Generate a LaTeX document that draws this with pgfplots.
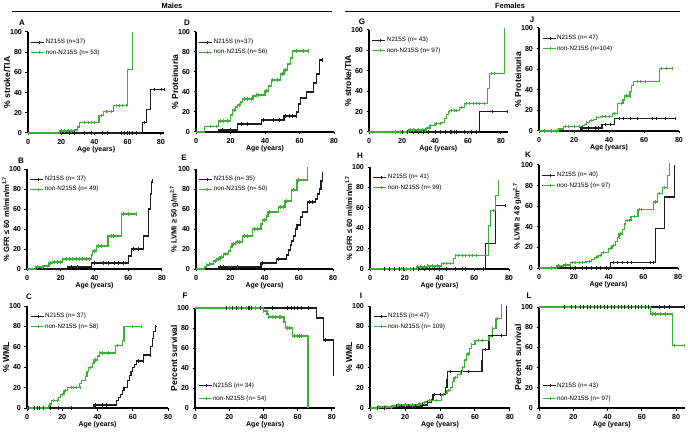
\documentclass[border=0pt]{standalone}
\usepackage{pgfplots}
\pgfplotsset{compat=1.18}
\usepackage{fontspec}
\setmainfont{Liberation Sans}
\definecolor{kmblack}{RGB}{30,30,30}
\definecolor{kmgreen}{RGB}{62,175,55}
\tikzset{
  blk/.style={color=kmblack},
  grn/.style={color=kmgreen},
}
\pgfplotsset{
  km/.style={
    scale only axis, anchor=south west,
    xmin=0, ymin=0, ymax=100,
    axis lines*=left, axis line style={line width=1.1pt, -},
    tick align=outside, major tick length=2.5bp,
    tick style={line width=1pt, black},
    xtick={0,20,40,60,80}, ytick={0,20,...,100},
    tick label style={font=\bfseries\fontsize{7.2}{8}\selectfont},
    /pgf/number format/assume math mode=true,
    xlabel={Age (years)},
    xlabel style={font=\bfseries\fontsize{7}{8}\selectfont, yshift=4bp},
    ylabel style={font=\bfseries\fontsize{8.6}{9}\selectfont, yshift=-7bp},
    clip=false,
    legend cell align=left,
    legend style={draw=none, fill=none, at={(0.02,0.94)}, anchor=north west,
      font=\fontsize{6.3}{7}\selectfont, inner sep=0pt, row sep=2.2bp,
      nodes={inner sep=1bp}},
    legend image code/.code={
      \draw[##1, line width=1pt] (0bp,0bp) -- (13bp,0bp);
      \draw[##1, line width=0.6pt] (8bp,-1.6bp) -- (8bp,1.6bp);},
    every axis plot/.append style={const plot, line width=1.2pt},
  },
  lowleg/.style={legend style={at={(0.02,0.05)}, anchor=south west, row sep=5bp}},
  smalllab/.style={ylabel style={font=\bfseries\fontsize{7.6}{8}\selectfont}},
  cens/.style={only marks, mark=|, mark size=1.6bp, mark options={line width=0.6pt}, forget plot},
}
\begin{document}
\begin{tikzpicture}
\useasboundingbox (0,0) rectangle (688bp,432bp);

% headers
\node[font=\bfseries\fontsize{7.5}{9}\selectfont] at (172bp,426bp) {Males};
\draw[line width=1pt] (12bp,420bp) -- (332bp,420bp);
\node[font=\bfseries\fontsize{7.5}{9}\selectfont] at (510bp,426bp) {Females};
\draw[line width=1pt] (345bp,420bp) -- (680bp,420bp);

% panel letters
\begin{scope}[every node/.style={font=\bfseries\fontsize{8}{9}\selectfont}]
\node at (22bp,409bp) {A};
\node at (187bp,409bp) {D};
\node at (362bp,410bp) {G};
\node at (532bp,412bp) {J};
\node at (21bp,271bp) {B};
\node at (184bp,274bp) {E};
\node at (360bp,276bp) {H};
\node at (528bp,277bp) {K};
\node at (29bp,135bp) {C};
\node at (185bp,136bp) {F};
\node at (361bp,136bp) {I};
\node at (529bp,136bp) {L};
\end{scope}

% ---------- A ----------
\begin{axis}[km, at={(28bp,299bp)}, width=136.3bp, height=101bp, xmax=82,
  ylabel={\% stroke/TIA}]
\addplot[blk] coordinates {(0,0)(69,10)(71.5,23)(73.5,43)(82,43)};
\addplot[grn] coordinates {(0,0)(19,2)(28,3)(30,6)(31,10)(42.7,17)(45.4,21)(51.4,27)(60.1,63)(63.1,100)};
\addplot[blk,cens] coordinates {(20,0)(25,0)(28,0)(34,0)(38,0)(45,0)(48,0)(56,0)(58,0)(60,0)(61,0)(63,0)(65,0)(70,10)(76,43)(80,43)(82,43)};
\addplot[grn,cens] coordinates {(20,2)(22,2)(24,2)(26,2)(34,10)(36,10)(38,10)(40,10)(44,17)(47,21)(48,21)(50,21)(53,27)(55,27)(57,27)(59,27)};
\legend{N215S (n=37), non-N215S (n= 53)}
\end{axis}

% ---------- D ----------
\begin{axis}[km, at={(196bp,300bp)}, width=138bp, height=100bp, xmax=80,
  ylabel={\% Proteinuria}]
\addplot[blk] coordinates {(0,0)(13,2)(24,8)(38,12)(51,16)(58.3,20)(59.6,28)(60.6,34)(64,40)(68,49)(70,58)(71.7,72)(73.5,72)};
\addplot[grn] coordinates {(0,0)(5,5.5)(13,11)(20,17)(21,22)(23,25)(24,27)(26,30)(27,33)(33,36)(35,37)(40,41)(42,46)(44,52)(49,58)(51,62)(53,68)(55,74)(56,81)(65,81)};
\addplot[blk,cens] coordinates {(15,2)(20,2)(26,8)(30,8)(39,12)(45,12)(48,12)(52,16)(54,16)(56,16)(58,16)(73.5,72)};
\addplot[grn,cens] coordinates {(8,5.5)(12,5.5)(14,11)(16,11)(18,11)(22,22)(25,27)(28,33)(30,33)(32,33)(35,37)(36,37)(41,41)(44,52)(47,52)(50,58)(52,62)(58,81)(62,81)(65,81)};
\legend{N215S (n=37), non-N215S (n= 56)}
\end{axis}

% ---------- G ----------
\begin{axis}[km, at={(369bp,300bp)}, width=138.6bp, height=102bp, xmax=84,
  ylabel={\% stroke/TIA}]
\addplot[blk] coordinates {(0,0)(67,20)(84,20)};
\addplot[grn] coordinates {(0,0)(24,2)(35,4)(37,6)(40,8)(44,9)(46,13)(47,17)(48,19)(49,21)(55,24)(58,28)(72,43)(73,57)(82,100)};
\addplot[blk,cens] coordinates {(20,0)(23,0)(27,0)(30,0)(33,0)(36,0)(40,0)(43,0)(46,0)(49,0)(50,0)(52,0)(53,0)(58,0)(62,0)(65,0)(75,20)(84,20)};
\addplot[grn,cens] coordinates {(16,0)(19,0)(25,2)(27,2)(30,2)(32,2)(34,2)(37,6)(41,8)(43,8)(48,19)(50,21)(52,21)(53,21)(56,24)(59,28)(61,28)(63,28)(65,28)(67,28)(70,28)(74,57)(76,57)(82,100)};
\legend{N215S (n= 43), non-N215S (n= 97)}
\end{axis}

% ---------- J ----------
\begin{axis}[km, at={(539bp,301bp)}, width=140bp, height=103bp, xmax=80,
  ylabel={\% Proteinuria}]
\addplot[blk] coordinates {(0,0)(24,3)(36,6)(43,12)(78,12)};
\addplot[grn] coordinates {(0,0)(11,2)(14,4)(25,5)(26,6)(27,8)(29,10)(31,11)(33,13)(35,14)(42,17)(45,27)(48,30)(49,34)(52,38)(53,44)(54,48)(69,61)(76,61)};
\addplot[blk,cens] coordinates {(25,3)(28,3)(32,3)(34,3)(38,6)(41,6)(46,12)(48,12)(52,12)(56,12)(65,12)(67,12)(72,12)(78,12)};
\addplot[grn,cens] coordinates {(3,0)(7,0)(10,0)(15,4)(17,4)(20,4)(23,4)(27,8)(30,10)(33,13)(36,14)(38,14)(40,14)(43,17)(47,27)(50,34)(52,34)(56,48)(58,48)(61,48)(70,61)(73,61)(76,61)};
\legend{N215S (n= 47), non-N215S (n=104)}
\end{axis}

% ---------- B ----------
\begin{axis}[km, smalllab, at={(27bp,163bp)}, width=135bp, height=100bp, xmax=80,
  ylabel={\% GFR ≤ 60 ml/min/m\textsuperscript{1.7}}]
\addplot[blk] coordinates {(0,0)(24,2)(38,6)(60,13)(62,20)(69,33)(72,60)(73,75)(74,88)};
\addplot[grn] coordinates {(0,0)(5,2)(10,3)(13,6)(15,7)(21,10)(38,14)(39,18)(41,23)(48,33)(56,55)(65,55)};
\addplot[blk,cens] coordinates {(26,2)(30,2)(40,6)(45,6)(48,6)(52,6)(54,6)(57,6)(63,20)(66,20)(74,88)};
\addplot[grn,cens] coordinates {(6,2)(9,2)(14,6)(16,7)(18,7)(20,7)(23,10)(25,10)(27,10)(29,10)(31,10)(33,10)(35,10)(37,10)(40,18)(42,23)(44,23)(50,33)(51,33)(57,55)(60,55)(65,55)};
\legend{N215S (n= 37), non-N215S (n= 49)}
\end{axis}

% ---------- E ----------
\begin{axis}[km, smalllab, at={(196bp,163bp)}, width=137bp, height=100bp, xmax=80,
  ylabel={\% LVMI ≥ 50 g/m\textsuperscript{2.7}}]
\addplot[blk] coordinates {(0,0)(13,2)(38,6)(47,10)(53,14)(54,19)(55,24)(56,28)(57,33)(58,40)(59,44)(61,52)(62,57)(65,67)(70,70)(71,75)(72,80)(73,88)(74,95)};
\addplot[grn] coordinates {(0,0)(5,2)(6,4)(8,5)(10,8)(12,10)(14,12)(16,15)(19,18)(20,22)(21,25)(23,27)(27,33)(33,40)(38,45)(39,49)(41,53)(42,57)(48,62)(52,68)(56,79)(59,89)(65,100)};
\addplot[blk,cens] coordinates {(14,2)(16,2)(24,2)(39,6)(48,10)(66,67)(68,67)(74,95)};
\addplot[grn,cens] coordinates {(6,4)(8,5)(11,8)(13,10)(15,12)(17,15)(22,25)(24,27)(25,27)(28,33)(30,33)(34,40)(36,40)(40,49)(43,57)(49,62)(51,62)(53,68)(57,79)(60,89)(65,100)};
\legend{N215S (n= 35), non-N215S (n= 50)}
\end{axis}

% ---------- H ----------
\begin{axis}[km, smalllab, at={(370bp,163bp)}, width=139bp, height=102bp, xmax=80,
  ylabel={\% GFR ≤ 60 ml/min/m\textsuperscript{1.7}}]
\addplot[blk] coordinates {(0,0)(66.5,25)(72,62)(78,62)};
\addplot[grn] coordinates {(0,0)(27,2)(33,3)(41,5)(48,10)(49,13)(68,43)(69.5,57)(72,72)(74,86)};
\addplot[blk,cens] coordinates {(8,0)(11,0)(14,0)(17,0)(19,0)(23,0)(25,0)(28,0)(31,0)(34,0)(37,0)(40,0)(44,0)(49,0)(53,0)(55,0)(65,0)(78,62)};
\addplot[grn,cens] coordinates {(18,0)(21,0)(23,0)(27,2)(29,2)(31,2)(33,3)(36,3)(39,3)(42,5)(44,5)(46,5)(49,13)(51,13)(53,13)(55,13)(57,13)(59,13)(61,13)(69,43)(71,57)(74,86)};
\legend{N215S (n= 41), non-N215S (n= 99)}
\end{axis}

% ---------- K ----------
\begin{axis}[km, smalllab, at={(539bp,164bp)}, width=139bp, height=103bp, xmax=80,
  ylabel={\% LVMI ≥ 48 g/m\textsuperscript{2.7}}]
\addplot[blk] coordinates {(0,0)(41,5)(67,38)(72,69)(78,100)};
\addplot[grn] coordinates {(0,0)(10,2)(14,3)(18,5)(27,6)(30,8)(32,10)(34,12)(36,15)(40,19)(42,22)(44,26)(45,30)(46,33)(48,37)(49,42)(50,46)(53,50)(57,57)(66,64)(68,72)(71,78)(74,90)(75,100)};
\addplot[blk,cens] coordinates {(18,0)(21,0)(25,0)(27,0)(30,0)(33,0)(35,0)(39,0)(43,5)(45,5)(48,5)(51,5)(53,5)(64,5)(66,5)};
\addplot[grn,cens] coordinates {(7,0)(11,2)(15,3)(19,5)(21,5)(23,5)(25,5)(29,6)(33,10)(35,12)(37,15)(41,19)(43,22)(46,30)(47,33)(49,42)(51,46)(52,46)(55,50)(58,57)(59,57)(67,64)(69,72)(72,78)(74,78)(75,100)};
\legend{N215S (n= 40), non-N215S (n= 97)}
\end{axis}

% ---------- C ----------
\begin{axis}[km, at={(27bp,24bp)}, width=141bp, height=102bp, xmax=80,
  ylabel={\% WML}]
\addplot[blk] coordinates {(0,0)(38,3)(51,7)(52,10)(53,13)(54,17)(55,20)(57,27)(58,32)(59,36)(60,40)(61,43)(62,46)(66,52)(70,60)(71,68)(72,75)(73,80)(74,80)};
\addplot[grn] coordinates {(0,0)(12,2)(13,4)(14,7)(18,10)(19,13)(21,17)(23,20)(30,24)(31,27)(33,31)(34,36)(35,40)(37,44)(38,47)(40,51)(41,54)(50,61)(54,66)(55,80)(65,80)};
\addplot[blk,cens] coordinates {(1,0)(4,0)(6,0)(7,0)(9,0)(13,0)(18,0)(25,0)(39,3)(43,3)(45,3)(63,46)(66,46)(70,52)(73,80)};
\addplot[grn,cens] coordinates {(15,7)(17,7)(20,13)(22,17)(25,20)(26,20)(28,20)(30,20)(36,40)(39,47)(41,54)(43,54)(46,54)(51,61)(55,66)(60,80)(65,80)};
\legend{N215S (n= 37), non-N215S (n= 58)}
\end{axis}

% ---------- F ----------
\begin{axis}[km, lowleg, at={(195bp,24bp)}, width=140.4bp, height=100bp, xmax=82,
  ylabel={Percent survival}]
\addplot[blk] coordinates {(0,100)(71,90)(75,68)(81,34)};
\addplot[grn] coordinates {(0,100)(40,97)(42,94)(43,91)(52,86)(53,80)(57,72)(66,0)};
\addplot[blk,cens] coordinates {(18,100)(20,100)(22,100)(24,100)(27,100)(31,100)(32,100)(33,100)(35,100)(38,100)(45,100)(54,100)(56,100)(58,100)(60,100)(62,100)(66,100)(76,68)(81,34)};
\addplot[grn,cens] coordinates {(20,100)(25,100)(30,100)(35,100)(40,97)(43,91)(45,91)(47,91)(49,91)(50,91)(54,80)(55,80)(58,72)(60,72)(61,72)(62,72)};
\legend{N215S (n= 34), non-N215S (n= 54)}
\end{axis}

% ---------- I ----------
\begin{axis}[km, at={(370bp,24bp)}, width=140bp, height=102bp, xmax=80,
  ylabel={\% WML}]
\addplot[blk] coordinates {(0,0)(12,1)(15,2)(30,3)(33,5)(35,8)(36,13)(43,20)(44,28)(44.5,36)(64,46)(64.5,57)(68,71)(78,71)(78,100)};
\addplot[grn] coordinates {(0,0)(5,1)(13,2)(16,3)(28,4)(30,5)(32,6)(33,7)(41,12)(42,14)(44,17)(46,20)(47,26)(48,30)(50,33)(52,36)(53,40)(54,47)(55,53)(57,58)(58,62)(60,66)(68,70)(70,78)(72,88)(75,100)};
\addplot[blk,cens] coordinates {(4,0)(8,0)(12,1)(15,2)(18,2)(22,2)(26,2)(30,3)(33,5)(37,13)(40,13)(46,36)(52,36)(56,36)(66,57)(70,71)(75,71)};
\addplot[grn,cens] coordinates {(5,1)(9,1)(12,1)(16,3)(20,3)(24,3)(28,4)(31,5)(34,7)(38,7)(41,12)(45,17)(49,30)(53,40)(56,53)(58,62)(62,66)(64,66)(70,78)(73,88)(75,100)};
\legend{N215S (n= 47), non-N215S (n= 109)}
\end{axis}

% ---------- L ----------
\begin{axis}[km, lowleg, at={(539bp,24bp)}, width=145.6bp, height=101bp, xmax=85,
  ylabel={Percent survival}]
\addplot[blk] coordinates {(0,100)(85,100)};
\addplot[grn] coordinates {(0,100)(65,93)(78,62)(85,62)};
\addplot[blk,cens] coordinates {(15,100)(19,100)(21,100)(24,100)(26,100)(28,100)(30,100)(32,100)(34,100)(36,100)(38,100)(40,100)(42,100)(44,100)(46,100)(48,100)(50,100)(52,100)(54,100)(56,100)(58,100)(60,100)(62,100)(64,100)(70,100)(73,100)(76,100)(85,100)};
\addplot[grn,cens] coordinates {(66,93)(68,93)(71,93)(74,93)(79,62)(85,62)};
\legend{N215S (n= 43), non-N215S (n= 97)}
\end{axis}
\end{tikzpicture}
\end{document}
